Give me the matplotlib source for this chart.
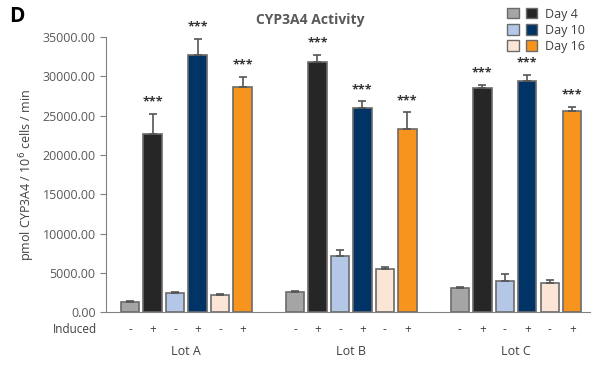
import numpy as np
import matplotlib.pyplot as plt
from matplotlib.patches import Patch
from matplotlib.legend_handler import HandlerTuple

plt.rcParams['font.family'] = ['Open Sans', 'DejaVu Sans']

lots = ['Lot A', 'Lot B', 'Lot C']
induced = ['-', '+', '-', '+', '-', '+']
days = ['Day 4', 'Day 10', 'Day 16']

# per lot: Day4 -, Day4 +, Day10 -, Day10 +, Day16 -, Day16 +
lot_a = [1270, 22650, 2400, 32700, 2150, 28650]
lot_b = [2540, 31800, 7200, 25900, 5550, 23300]
lot_c = [3050, 28500, 3950, 29400, 3700, 25600]
err_a = [120, 2600, 120, 2000, 100, 1300]
err_b = [150, 900, 650, 900, 250, 2100]
err_c = [120, 350, 850, 750, 330, 500]
signif = ['', '***', '', '***', '', '***']

colors = ['#a5a5a5', '#262626', '#b4c7e7', '#003366', '#fbe5d6', '#f7941d']
edge = '#6b6b6b'

values = [lot_a, lot_b, lot_c]
errors = [err_a, err_b, err_c]

fig = plt.figure(figsize=(5.99, 3.69), dpi=100)
ax = fig.add_axes([0.177, 0.154, 0.808, 0.746])

gap = 7.33
idx = np.arange(6)
for g in range(3):
    x = g * gap + idx
    ax.bar(x, values[g], width=0.82, color=colors, edgecolor=edge, linewidth=1.2, zorder=2)
    ax.errorbar(x, values[g], yerr=[np.zeros(6), errors[g]], fmt='none',
                ecolor='#555555', elinewidth=1.2, capsize=3, capthick=1.2, zorder=3)
    for i in range(6):
        if signif[i]:
            ax.text(x[i], values[g][i] + errors[g][i] + 700, signif[i], ha='center',
                    va='bottom', fontsize=9, fontweight='bold', color='#333333')
        ax.text(x[i], -1400, induced[i], ha='center', va='top', fontsize=8.5,
                color='#404040', transform=ax.transData, clip_on=False)
    ax.text(g * gap + 2.5, -4200, lots[g], ha='center', va='top', fontsize=9,
            color='#404040', clip_on=False)

ax.text(-1.45, -1400, 'Induced', ha='right', va='top', fontsize=8.5, color='#404040', clip_on=False)

ax.set_xlim(-1.07, 20.45)
ax.set_ylim(0, 35000)
ax.set_yticks(np.arange(0, 35001, 5000))
ax.set_yticklabels(['%.2f' % v for v in np.arange(0, 35001, 5000)], fontsize=9, color='#595959')
ax.set_xticks([])
for s in ['top', 'right']:
    ax.spines[s].set_visible(False)
ax.spines['left'].set_color('#808080')
ax.spines['bottom'].set_color('#808080')
ax.tick_params(axis='y', color='#808080', length=4)
ax.set_ylabel('pmol CYP3A4 / 10$^6$ cells / min', fontsize=9, color='#404040', labelpad=4)

fig.text(0.518, 0.945, 'CYP3A4 Activity', ha='center', va='center', fontsize=10,
         fontweight='bold', color='#595959')
fig.text(0.015, 0.955, 'D', ha='left', va='center', fontsize=15, fontweight='bold', color='black')

handles = [(Patch(facecolor=colors[2 * k], edgecolor=edge), Patch(facecolor=colors[2 * k + 1], edgecolor=edge))
           for k in range(3)]
fig.legend(handles, days, handler_map={tuple: HandlerTuple(ndivide=None, pad=0.6)},
           loc='upper right', bbox_to_anchor=(0.995, 1.01), frameon=False, fontsize=9,
           handlelength=2.4, handleheight=0.9, labelspacing=0.25, handletextpad=0.6,
           labelcolor='#404040')

fig.savefig('out.png', dpi=100)
